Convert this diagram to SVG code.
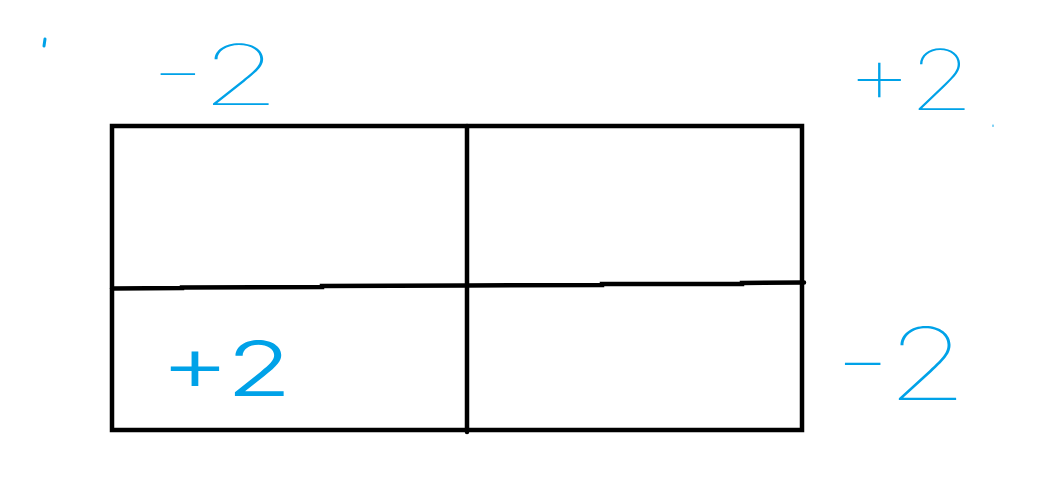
<svg xmlns="http://www.w3.org/2000/svg" width="1053" height="487" viewBox="0 0 1053 487">
<style>
.grid{fill:none;stroke:#000;stroke-width:4.5;stroke-linecap:round;stroke-linejoin:miter}
.hand{font-family:Inter,"Noto Sans","DejaVu Sans",sans-serif;fill:#00A2E8;font-size:84px}
.thin{font-weight:100}
.mark{stroke:#00A2E8;fill:none;stroke-linecap:round}
</style>
<rect width="1053" height="487" fill="#fff"/>
<g id="grid">
<rect class="grid" x="112" y="126" width="690" height="304" style="stroke-linecap:butt"/>
<line class="grid" x1="467" y1="126" x2="467" y2="432"/>
<polyline class="grid" points="112,288.5 182,288 182,287.5 322,287 322,286 467,285.5 602,285 602,284 742,284 742,283 804,282.5"/>
</g>
<g id="label-top-left">
<text class="hand thin" x="150" y="105" textLength="130" lengthAdjust="spacingAndGlyphs">-2</text>
</g>
<g id="label-top-right">
<text class="hand thin" x="846" y="110" textLength="128" lengthAdjust="spacingAndGlyphs">+2</text>
</g>
<g id="label-cell">
<text class="hand" x="160" y="396" textLength="132" lengthAdjust="spacingAndGlyphs" style="font-weight:300;font-size:76px">+2</text>
</g>
<g id="label-right">
<text class="hand thin" x="834" y="400" textLength="134" lengthAdjust="spacingAndGlyphs" style="font-size:100px">-2</text>
</g>
<g id="marks">
<line class="mark" x1="45" y1="39" x2="44" y2="46" style="stroke-width:3"/>
<line class="mark" x1="993" y1="125" x2="993" y2="126.5" style="stroke-width:1"/>
</g>
</svg>
